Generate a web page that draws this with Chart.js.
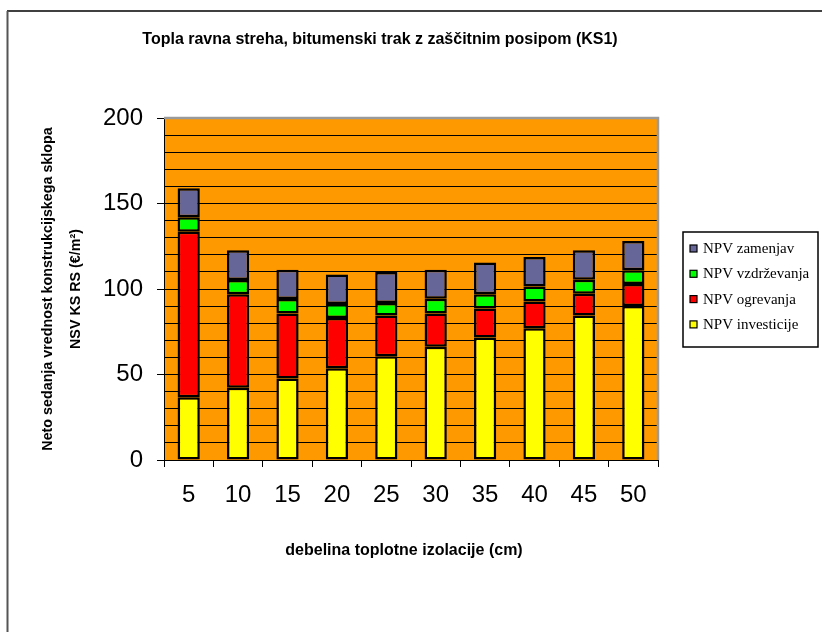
<!DOCTYPE html>
<html>
<head>
<meta charset="utf-8">
<script src="https://cdn.jsdelivr.net/npm/chart.js@4.4.0/dist/chart.umd.min.js"></script>
<style>
  html, body { margin: 0; padding: 0; background: #fff; }
  #wrap { width: 822px; height: 632px; position: relative; }
</style>
</head>
<body>
<div id="wrap"><canvas id="c" width="822" height="632"></canvas></div>
<script>
// Insulation thickness (cm)
const thickness = ['5', '10', '15', '20', '25', '30', '35', '40', '45', '50'];

// Net present value components (€/m²), stacked bottom to top
const npvInvesticije = [36.7, 42.3, 47.6, 53.7, 60.7, 66.2, 71.6, 77.1, 84.5, 90.0];
const npvOgrevanja   = [96.8, 54.7, 38.1, 29.3, 23.8, 19.5, 17.0, 15.6, 12.7, 12.9];
const npvVzdrzevanja = [8.4, 8.2, 8.4, 8.2, 7.3, 8.6, 8.4, 8.8, 8.2, 8.0];
const npvZamenjav    = [17.0, 17.4, 17.2, 17.3, 18.1, 17.0, 18.5, 17.2, 17.2, 17.2];

const seriesNames = ['NPV investicije', 'NPV ogrevanja', 'NPV vzdrževanja', 'NPV zamenjav'];
const seriesColors = ['#FFFF00', '#FF0000', '#00FF00', '#666699'];

const yTicksShown = [0, 50, 100, 150, 200];

const chartTitle = 'Topla ravna streha, bitumenski trak z zaščitnim posipom (KS1)';
const xTitle = 'debelina toplotne izolacije (cm)';
const yTitle = ['Neto sedanja vrednost konstrukcijskega sklopa', 'NSV KS RS (€/m²)'];

const SANS = '"Liberation Sans", Arial, sans-serif';
const SERIF = '"Liberation Serif", "Times New Roman", serif';

// Background, page frame, orange plot area, titles and legend
const backdrop = {
  id: 'backdrop',
  beforeDraw(chart) {
    const { ctx, chartArea: a } = chart;
    ctx.save();
    ctx.fillStyle = '#fff';
    ctx.fillRect(0, 0, chart.width, chart.height);
    // frame of the page
    ctx.strokeStyle = '#000';
    ctx.lineWidth = 1.5;
    ctx.beginPath();
    ctx.moveTo(7, 11); ctx.lineTo(chart.width, 11);
    ctx.stroke();
    ctx.strokeStyle = '#555';
    ctx.lineWidth = 2;
    ctx.beginPath();
    ctx.moveTo(7.5, 11); ctx.lineTo(7.5, chart.height);
    ctx.stroke();
    // plot background
    ctx.fillStyle = '#FF9900';
    ctx.fillRect(a.left, a.top, a.right - a.left, a.bottom - a.top);
    ctx.restore();
  },
  afterDraw(chart) {
    const { ctx, chartArea: a } = chart;
    ctx.save();
    // grey edge on top and right of the plot area
    ctx.strokeStyle = '#9a9a9a';
    ctx.lineWidth = 2.5;
    ctx.beginPath();
    ctx.moveTo(a.left, a.top);
    ctx.lineTo(a.right, a.top);
    ctx.lineTo(a.right, a.bottom);
    ctx.stroke();

    // chart title
    ctx.fillStyle = '#000';
    ctx.font = 'bold 16px ' + SANS;
    ctx.textAlign = 'center';
    ctx.textBaseline = 'alphabetic';
    ctx.fillText(chartTitle, 380, 44);

    // x axis title
    ctx.textBaseline = 'middle';
    ctx.fillText(xTitle, 404, 551);

    // legend box (series listed top to bottom as stacked)
    const bx = 683, by = 232, bw = 135, bh = 115;
    ctx.fillStyle = '#fff';
    ctx.fillRect(bx, by, bw, bh);
    ctx.strokeStyle = '#000';
    ctx.lineWidth = 1.5;
    ctx.strokeRect(bx, by, bw, bh);
    const rows = chart.data.datasets.slice().reverse();
    ctx.font = '15px ' + SERIF;
    ctx.textAlign = 'left';
    ctx.textBaseline = 'middle';
    rows.forEach((ds, i) => {
      const cy = by + 16.5 + i * 25.3;
      ctx.fillStyle = ds.backgroundColor;
      ctx.fillRect(690, cy - 3.5, 7, 7);
      ctx.strokeStyle = '#000';
      ctx.lineWidth = 1.2;
      ctx.strokeRect(690, cy - 3.5, 7, 7);
      ctx.fillStyle = '#000';
      ctx.fillText(ds.label, 703, cy + 0.5);
    });
    ctx.restore();
  }
};

const values = [npvInvesticije, npvOgrevanja, npvVzdrzevanja, npvZamenjav];

new Chart(document.getElementById('c'), {
  type: 'bar',
  data: {
    labels: thickness,
    datasets: values.map((v, i) => ({
      label: seriesNames[i],
      data: v,
      backgroundColor: seriesColors[i],
      borderColor: '#000',
      borderWidth: 2.5,
      borderSkipped: false,
      barPercentage: 0.45,
      categoryPercentage: 1.0
    }))
  },
  options: {
    responsive: false,
    devicePixelRatio: 1,
    animation: false,
    layout: { padding: { left: 0, top: 118, right: 164, bottom: 0 } },
    plugins: {
      legend: { display: false },
      title: { display: false },
      tooltip: { enabled: false }
    },
    scales: {
      x: {
        stacked: true,
        grid: {
          offset: true,
          drawOnChartArea: false,
          drawTicks: true,
          tickLength: 7,
          tickColor: '#000',
          lineWidth: 1
        },
        border: { display: true, color: '#000', width: 1 },
        ticks: {
          color: '#000',
          font: { family: SANS, size: 24 },
          padding: 14,
          maxRotation: 0,
          autoSkip: false
        },
        title: { display: false },
        afterFit(scale) { scale.height = 172; }
      },
      y: {
        stacked: true,
        min: 0,
        max: 200,
        grid: {
          color: (c) => (c.tick && c.tick.value > 0 && c.tick.value < 200) ? '#000' : 'rgba(0,0,0,0)',
          tickColor: (c) => (c.tick && yTicksShown.includes(c.tick.value)) ? '#000' : 'rgba(0,0,0,0)',
          tickLength: 7,
          lineWidth: 1
        },
        border: { display: true, color: '#000', width: 1 },
        ticks: {
          stepSize: 10,
          autoSkip: false,
          color: '#000',
          font: { family: SANS, size: 24 },
          padding: 14,
          callback: (v) => yTicksShown.includes(v) ? String(v) : ''
        },
        title: {
          display: true,
          text: yTitle,
          color: '#000',
          font: { family: SANS, size: 14.3, weight: 'bold', lineHeight: '28px' },
          padding: { top: 34, bottom: 0 }
        },
        afterFit(scale) { scale.width = 164; }
      }
    }
  },
  plugins: [backdrop]
});
</script>
</body>
</html>
